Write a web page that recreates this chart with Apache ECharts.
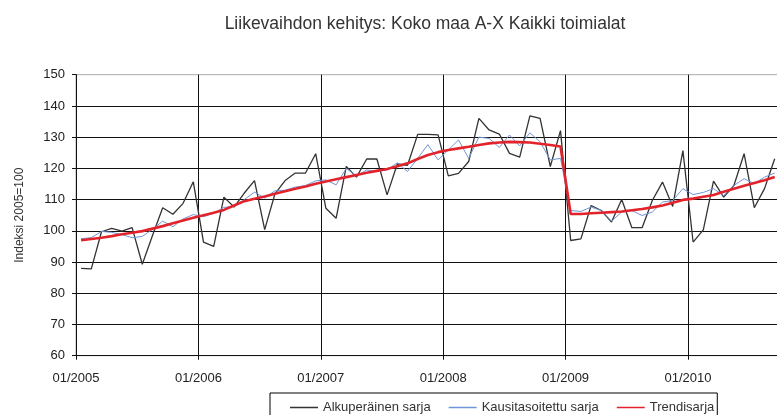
<!DOCTYPE html>
<html><head><meta charset="utf-8">
<script src="https://cdn.jsdelivr.net/npm/echarts@6/dist/echarts.min.js"></script>
<style>html,body{margin:0;padding:0;background:#fff}#c{width:777px;height:415px}</style>
</head><body><div id="c"></div>
<script>
const title = 'Liikevaihdon kehitys: Koko maa A-X Kaikki toimialat';
const yAxisName = 'Indeksi 2005=100';
const seriesNames = ['Alkuperäinen sarja', 'Kausitasoitettu sarja', 'Trendisarja'];
const startYear = 2005;
// monthly values from 01/2005 to 09/2010
const original = [88.0,87.8,99.7,100.8,99.9,101.0,89.3,98.5,107.4,105.3,108.8,115.7,
  96.4,95.0,110.8,107.6,112.1,116.1,100.4,111.8,116.1,118.5,118.5,124.7,
  107.2,104.0,120.6,117.2,123.0,123.0,111.5,121.4,121.0,130.9,130.9,130.7,
  117.6,118.4,122.2,136.0,132.3,131.0,124.8,123.6,136.8,136.0,120.6,132.1,
  96.9,97.4,108.1,106.5,102.8,110.0,101.0,101.0,109.7,115.6,107.8,125.7,
  96.4,100.3,115.9,110.8,114.5,124.7,107.4,113.5,123.1];
const seasonal = [97.5,97.8,99.8,99.5,98.8,97.8,98.2,100.5,103.1,101.3,103.8,105.2,
  104.5,105.6,107.5,107.8,110.0,112.4,110.5,112.8,113.0,114.0,114.5,116.0,
  116.3,114.7,120.0,117.6,119.5,119.0,119.5,121.8,119.0,123.2,127.6,122.7,
  125.9,129.1,123.2,130.0,129.6,126.7,130.7,127.2,131.4,128.5,122.7,123.2,
  106.5,106.2,107.6,106.5,103.1,106.0,106.5,104.9,106.0,109.2,109.7,113.5,
  111.6,112.3,113.5,111.3,114.5,116.7,115.1,117.2,118.5];
const trend = [97.0,97.4,97.8,98.3,98.9,99.4,99.9,100.7,101.5,102.4,103.3,104.2,
  105.0,105.8,106.7,108.1,109.5,110.3,111.0,111.9,112.7,113.5,114.2,115.1,
  115.8,116.5,117.2,117.9,118.6,119.2,119.8,120.7,121.6,123.0,124.3,125.2,
  125.9,126.4,126.9,127.5,128.0,128.3,128.5,128.4,128.3,127.9,127.5,127.0,
  105.4,105.4,105.6,105.8,106.0,106.2,106.6,107.0,107.5,108.1,109.0,109.9,
  110.3,110.9,111.5,112.5,113.5,114.4,115.3,116.2,117.2];

const toPts = arr => arr.map((v, i) => [i + 0.5, v]);
const chart = echarts.init(document.getElementById('c'), null, {renderer: 'canvas'});
const font = 'Liberation Sans, Arial, sans-serif';
const colors = ['#333', '#7094d8', '#e3232b'];
chart.setOption({
  animation: false,
  backgroundColor: '#fff',
  textStyle: {fontFamily: font},
  title: {text: title, left: 420, textAlign: 'center', top: 10,
    textStyle: {fontSize: 17.5, fontWeight: 'normal', color: '#333', fontFamily: font}},
  grid: {left: 76, top: 74.7, width: 734.4, height: 281, containLabel: false,
    outerBoundsMode: 'none',
    show: true, borderColor: '#aaa', borderWidth: 1, backgroundColor: 'transparent'},
  legend: {
    left: 270, top: 393, orient: 'horizontal',
    data: seriesNames.map((n, k) => ({name: n, icon: 'rect', itemStyle: {color: colors[k]}})),
    borderColor: '#000', borderWidth: 1, padding: [8, 3, 8, 20],
    itemWidth: 28, itemHeight: 1.5, itemGap: 18,
    textStyle: {fontSize: 13, color: '#333', fontFamily: font}
  },
  xAxis: {
    type: 'value', min: 0, max: 72, interval: 12,
    axisLine: {show: true, onZero: false, lineStyle: {color: '#111', width: 1}},
    axisTick: {show: true, inside: false, length: 4, lineStyle: {color: '#111'}},
    axisLabel: {fontSize: 13, color: '#222', margin: 16, fontFamily: font,
      formatter: v => (v % 12 === 0 && v < 72) ? '01/' + (startYear + v / 12) : ''},
    splitLine: {show: true, lineStyle: {color: '#111', width: 1}}
  },
  yAxis: {
    type: 'value', min: 60, max: 150, interval: 10,
    name: yAxisName, nameLocation: 'middle', nameGap: 50, nameRotate: 90,
    nameTextStyle: {fontSize: 12, color: '#333', fontFamily: font},
    axisLine: {show: true, lineStyle: {color: '#111', width: 1}},
    axisTick: {show: true, inside: false, length: 4, lineStyle: {color: '#111'}},
    axisLabel: {fontSize: 13, color: '#222', margin: 11, fontFamily: font},
    splitLine: {show: true, showMaxLine: false, lineStyle: {color: '#111', width: 1}}
  },
  series: [
    {name: seriesNames[0], type: 'line', data: toPts(original), symbol: 'none',
      lineStyle: {color: colors[0], width: 1.3}, itemStyle: {color: colors[0]}, z: 3},
    {name: seriesNames[1], type: 'line', data: toPts(seasonal), symbol: 'none',
      lineStyle: {color: colors[1], width: 1}, itemStyle: {color: colors[1]}, z: 4},
    {name: seriesNames[2], type: 'line', data: toPts(trend), symbol: 'none',
      lineStyle: {color: colors[2], width: 2.6}, itemStyle: {color: colors[2]}, z: 5}
  ]
});
</script></body></html>
